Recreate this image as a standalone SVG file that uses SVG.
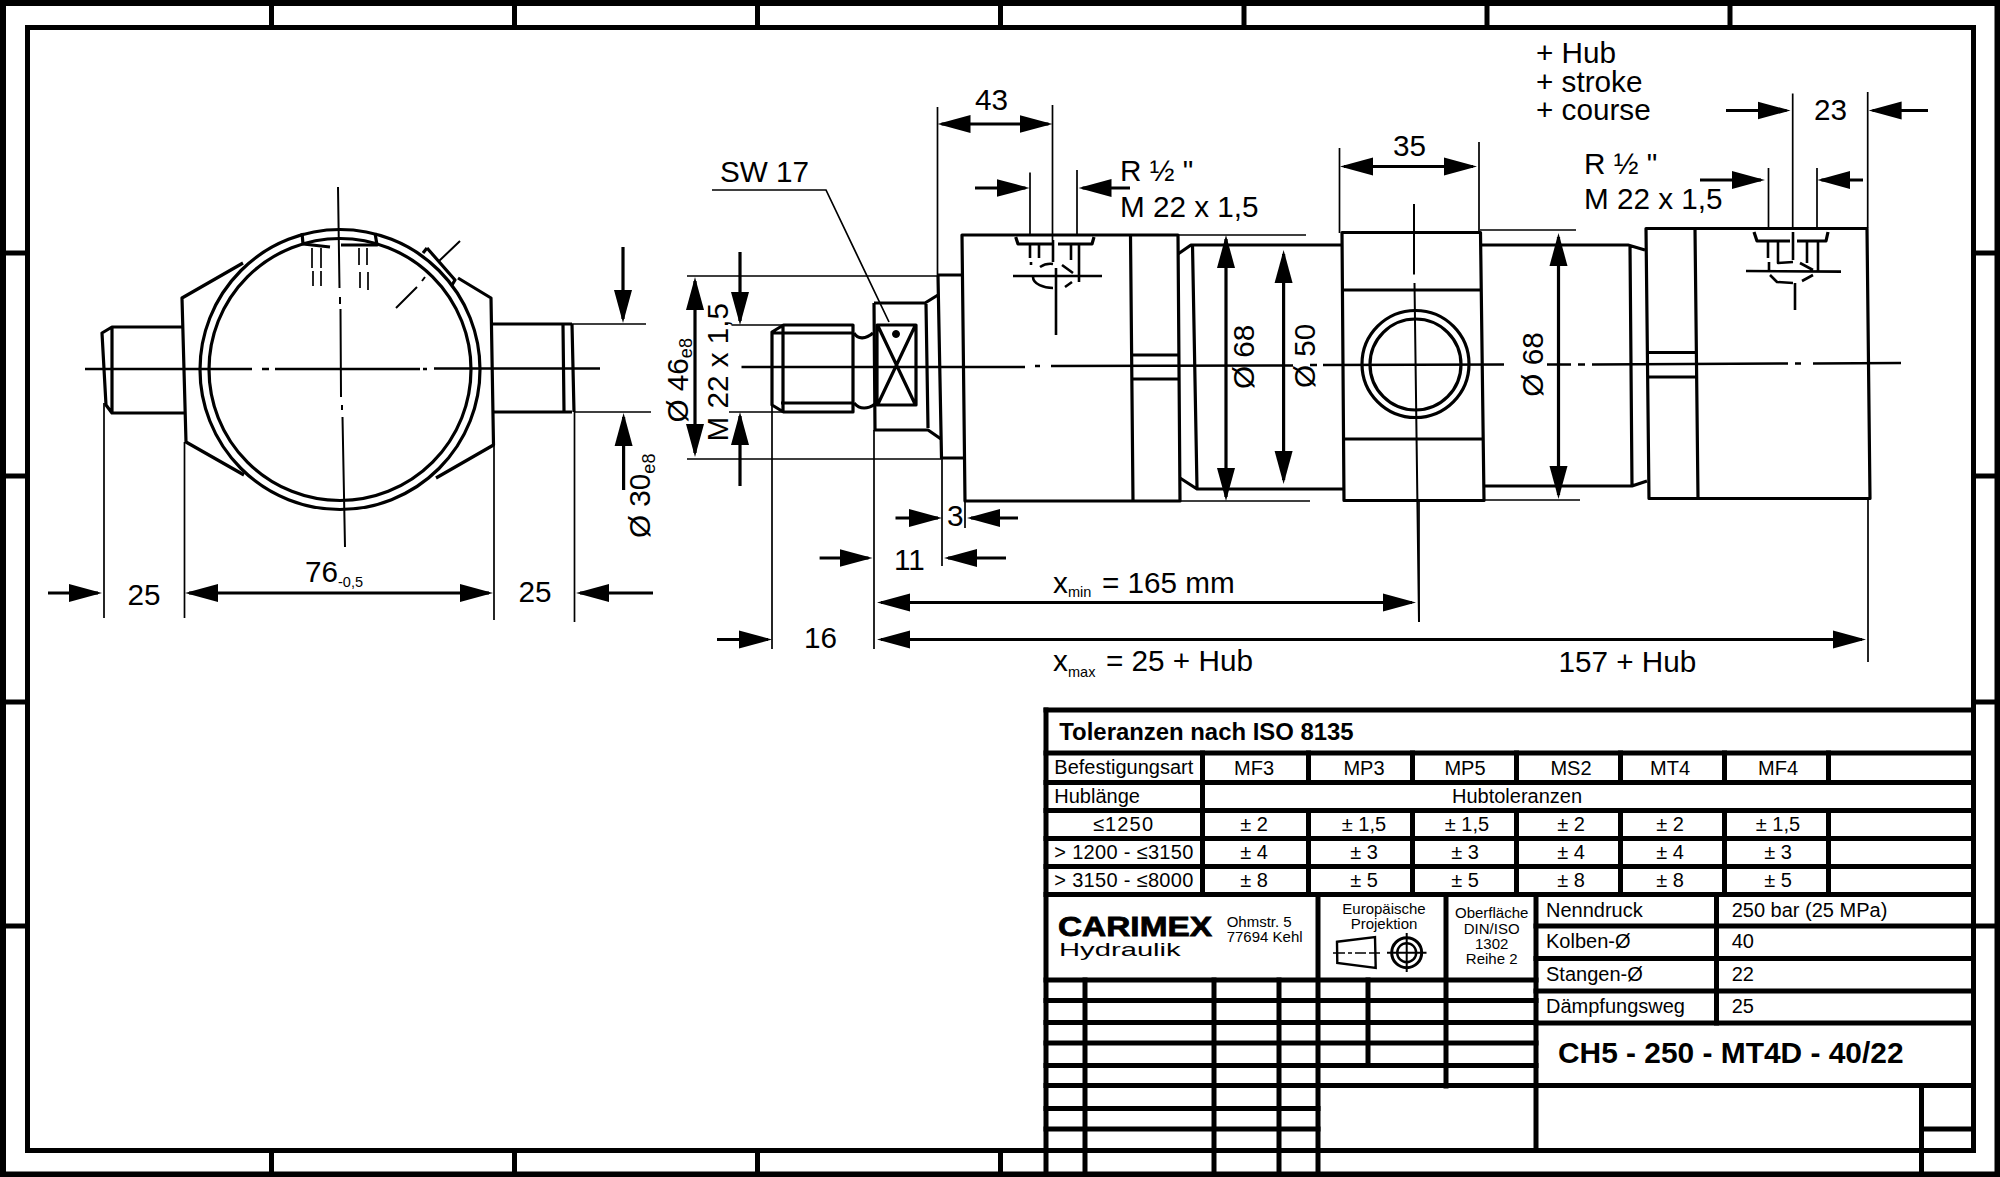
<svg xmlns="http://www.w3.org/2000/svg" width="2000" height="1177" viewBox="0 0 2000 1177">
<style>
text{font-family:"Liberation Sans",Arial,sans-serif;fill:#000;font-size:29.700px}
.s{font-size:18px}.u{font-size:14.5px}
.b{font-weight:bold}
.f20{font-size:20px}.f15{font-size:15px}
.m{text-anchor:middle}
path,line,circle{fill:none;stroke:#000}
.k{stroke-width:5;stroke-linecap:square}
.t{stroke-width:3.2;stroke-linejoin:round}
.n{stroke-width:1.7}
.c{stroke-width:2.4}
.a{stroke-width:3.2;marker-start:url(#hs);marker-end:url(#he)}
.o{stroke-width:3.2;marker-end:url(#he)}
</style>
<defs>
<marker id="he" markerUnits="userSpaceOnUse" markerWidth="36" markerHeight="20" refX="29" refY="10" orient="auto"><path d="M0 1L33 10L0 19z" style="fill:#000;stroke:none"/></marker>
<marker id="hs" markerUnits="userSpaceOnUse" markerWidth="36" markerHeight="20" refX="29" refY="10" orient="auto-start-reverse"><path d="M0 1L33 10L0 19z" style="fill:#000;stroke:none"/></marker>
</defs>
<rect width="2000" height="1177" style="fill:#fff"/>

<g id="frame">
<path d="M3 3H1997.5V1174.5H3Z" style="stroke-width:6"/>
<path class="k" d="M27.5 27.5H1973.5V1150.5H27.5Z"/>
<path class="k" d="M271.5 5V25M514.5 5V25M757.5 5V25M1000.5 5V25M1244 5V25M1487 5V25M1730 5V25"/>
<path class="k" d="M271.5 1153V1172M514.5 1153V1172M757.5 1153V1172M1000.5 1153V1172"/>
<path class="k" d="M5 253H25M5 476H25M5 702H25M5 926H25M1976 253H1995M1976 476H1995M1976 702H1995M1976 926H1995"/>
</g>

<g id="front-view">
<circle class="t" cx="340" cy="369.5" r="140"/>
<circle class="t" cx="340" cy="369.5" r="131"/>
<path class="t" d="M243 263L182 298L186 442L244 475M436 478L493.500 445L491 298L458 278"/>
<path class="t" d="M182 327H112L102 333L106 405L112 413H186M112 327V413"/>
<path class="t" d="M492 324H572M493 412H572M563 325L564 411M572 324L574 412"/>
<path class="t" d="M302 233L303 244L330 247M341 245H377L375 233"/>
<path class="n" d="M312 248V268M313 271V286M321 248V268M321 271V286M359 248V265M360 272V288M367 248V265M368 272V290"/>
<path class="t" d="M427 248L455 280L452 285M427 248L423 253"/>
<path class="n" d="M460 241L438 262M425 277L422 281M417 287L396 308" style="stroke-width:2"/>
<path class="c" d="M85 369H252M262 369H269M275 369H420M423 369H427M434 368.500H600"/>
<path class="n" d="M338 187L339.500 288M340 297V304M340.500 309L341 397M342 405V410M342.500 417L345 547" style="stroke-width:2"/>
<path class="n" d="M104 403V618M184.500 442V618M494 445V620M574.500 412V622M572 324H646M574 412H651"/>
</g>

<g id="side-view">
<path class="c" d="M741.500 367H1025M1035 366H1040M1051 366L1293 365.500M1310 365H1317M1323 365L1504 364.500M1547 364.500H1571M1578 364.500H1585M1592 364.500L1788 363.500M1795 363.500H1801M1813 363.500L1901 363"/>
<!-- rod -->
<path class="t" d="M772 332L783.500 325H853V412H783.500L772 405ZM783 325V412M773.500 333H853M781 403H853"/>
<path class="t" d="M854 333C858 340 866 339 873 333M854 403C860 410 868 409 875 404"/>
<path class="t" d="M874 303H925L938 295M874 303L875 430H928L941 439M926 304L928 428"/>
<path class="t" d="M877 325H916V405H877ZM878 326L915 404M915 326L878 404"/>
<circle cx="896" cy="334" r="3.500" style="fill:#000"/>
<path class="t" d="M938 276L941.500 458H964M938 275H962"/>
<!-- first head -->
<path class="t" d="M962 235H1178L1180 501H965ZM1130.500 235L1133 501M1131 355H1178M1132 379H1179"/>
<path class="t" d="M1178 254L1191 245H1342M1180 478L1197 489H1345M1192.500 245L1197 488"/>
<path class="n" d="M1178 235H1306M1180 501H1310"/>
<path class="t" d="M1015.700 237L1018 244H1053M1058 244H1092L1094 237"/>
<path class="t" style="stroke-width:2.600" d="M1030 245V258M1031 262V265M1039 245V258M1071 245V260M1079 245V282M1013 276H1102M1040 267Q1046 263 1053 264M1033 277C1033 284 1044 288 1053 288M1062 265L1073 273M1065 287L1072 282M1053 240V262M1056 268V335"/>
<!-- middle block -->
<path class="t" d="M1342 232.500H1480.500L1484 500.500H1344ZM1342 290H1481M1343 439H1483"/>
<circle class="t" cx="1415.500" cy="364" r="53.500"/>
<circle class="t" cx="1415.500" cy="364.500" r="45.500"/>
<path class="n" d="M1414 204V274.500M1414.500 283L1419 622" style="stroke-width:2"/>
<path class="t" d="M1480.500 245H1628L1645 250M1485 486H1632L1647 481M1630 245L1632 486"/>
<path class="n" d="M1480 230H1576M1484 500H1580"/>
<!-- end cap -->
<path class="t" d="M1646 228.500H1867L1870 498.500H1649ZM1695 229L1698 498M1647 352.500H1696M1648 377H1697"/>
<path class="t" d="M1754 232L1757 241H1790M1797 241H1826L1828 232"/>
<path class="t" style="stroke-width:2.600" d="M1768 242V258M1769 262V270M1778 242V263L1793 262M1793 232V260M1807 242V263M1818 242V272M1746 271L1841 271.600M1770 275L1777 282L1793 283M1800 263L1813 270M1802 281L1813 275M1795 283V310"/>
<!-- extension lines and leader -->
<path class="n" d="M687 276H937.500M687 459H941M731.500 325H783M729 412H783M937.500 107V276M1030 172.600V235M1052.500 105V240M1077 170V235M772 405V649M874 430V649M942 459V566M965 501V528M1339.500 148V233M1479 142V231M1419 501V622M1768.500 168V228M1792.700 93.600V228M1817 168V228M1867.700 92V228M1868 498V662"/>
<path class="n" d="M712 190H826L889 322"/>
</g>

<g id="connectors">
<path class="o" d="M48 593H98"/>
<path class="a" d="M189 593H489"/>
<path class="o" d="M653 593H580"/>
<path class="o" d="M623 247V319"/>
<path class="o" d="M623.600 490V417"/>
<path class="a" d="M695 281V453"/>
<path class="o" d="M740 252V321"/>
<path class="o" d="M740 486V416"/>
<path class="a" d="M941.500 124H1048.500"/>
<path class="o" d="M975 188H1025.500"/>
<path class="o" d="M1130 188H1082.500"/>
<path class="a" d="M1344 166.500H1473"/>
<path class="o" d="M1726 110.500H1786.500"/>
<path class="o" d="M1928 110.500H1872.600"/>
<path class="o" d="M1700 180H1761"/>
<path class="o" d="M1863 180H1821.400"/>
<path class="a" d="M1226 239V497"/>
<path class="a" d="M1283.600 254V480"/>
<path class="a" d="M1558.500 237V495"/>
<path class="o" d="M895.500 518H938"/>
<path class="o" d="M1018 518H971"/>
<path class="o" d="M819.600 558H868.500"/>
<path class="o" d="M1006 558H948"/>
<path class="o" d="M717 639.500H768"/>
<path class="a" d="M881 602.500H1412"/>
<path class="a" d="M881 639.500H1862"/>
</g>

<g id="labels">
<text x="127.500" y="605">25</text>
<text x="305" y="582">76</text><text class="u" x="338" y="587">-0,5</text>
<text x="518.500" y="602">25</text>
<text transform="rotate(-90 650 538)" x="650" y="538">Ø 30<tspan class="s" dy="5">e8</tspan></text>
<text transform="rotate(-90 688 422.500)" x="688" y="422.500">Ø 46<tspan class="s" dy="4">e8</tspan></text>
<text transform="rotate(-90 728.500 441.600)" x="728.500" y="441.600">M 22 x 1,5</text>
<text x="720" y="182">SW 17</text>
<text x="975" y="110">43</text>
<text x="1120" y="180.600">R ½ "</text>
<text x="1120" y="217">M 22 x 1,5</text>
<text x="947" y="526">3</text>
<text x="894" y="570">11</text>
<text x="804" y="647.500">16</text>
<text transform="rotate(-90 1254 389)" x="1254" y="389">Ø 68</text>
<text transform="rotate(-90 1315 388)" x="1315" y="388">Ø 50</text>
<text transform="rotate(-90 1543 396.700)" x="1543" y="396.700">Ø 68</text>
<text x="1053" y="593">x</text><text class="u" x="1068" y="597">min</text><text x="1102" y="593">= 165 mm</text>
<text x="1053" y="671">x</text><text class="u" x="1068" y="677">max</text><text x="1106" y="671">= 25 + Hub</text>
<text x="1558.500" y="671.500">157 + Hub</text>
<text x="1536" y="63">+ Hub</text>
<text x="1536" y="91.500">+ stroke</text>
<text x="1536" y="120">+ course</text>
<text x="1393" y="155.500">35</text>
<text x="1814" y="120">23</text>
<text x="1584" y="173.600">R ½ "</text>
<text x="1584" y="209">M 22 x 1,5</text>
</g>

<g id="title-block">
<path class="k" d="M1046 710H1973M1046 753H1973M1046 782.500H1973M1046 810.500H1973M1046 838.500H1973M1046 866.500H1973M1046 894.500H1973"/>
<path class="k" d="M1046 710V1174M1202.500 753V894M1308.500 753V782M1412.500 753V782M1516.500 753V782M1620.500 753V782M1724.500 753V782M1828.500 753V782M1308.500 811V894M1412.500 811V894M1516.500 811V894M1620.500 811V894M1724.500 811V894M1828.500 811V894"/>
<path class="k" d="M1318 895V1174M1446 895V1086M1536 895V1150M1716.500 895V1023"/>
<path class="k" d="M1046 980H1536M1046 1000.500H1536M1046 1022.500H1536M1046 1043H1536M1046 1065.500H1536M1046 1085.500H1973M1536 926H1973M1536 958.500H1973M1536 991H1973M1536 1023H1973M1046 1108.500H1318M1046 1129H1318"/>
<path class="k" d="M1085 980V1174M1214 980V1174M1279 980V1174M1368 980V1065M1921.500 1086V1174M1921.500 1129H1973"/>

<text class="b" style="font-size:23.900px" x="1059.300" y="740">Toleranzen nach ISO 8135</text>
<text class="f20" x="1054.300" y="774">Befestigungsart</text>
<text class="f20 m" x="1254" y="775">MF3</text><text class="f20 m" x="1364" y="775">MP3</text><text class="f20 m" x="1465" y="775">MP5</text><text class="f20 m" x="1571" y="775">MS2</text><text class="f20 m" x="1670" y="775">MT4</text><text class="f20 m" x="1778" y="775">MF4</text>
<text class="f20" x="1054.300" y="803">Hublänge</text>
<text class="f20 m" x="1517" y="803">Hubtoleranzen</text>
<text class="f20" x="1093" y="831" textLength="60" lengthAdjust="spacing">≤1250</text>
<text class="f20" x="1054.300" y="859" textLength="139" lengthAdjust="spacing">&gt; 1200 - ≤3150</text>
<text class="f20" x="1054.300" y="887" textLength="139" lengthAdjust="spacing">&gt; 3150 - ≤8000</text>
<text class="f20 m" x="1254" y="831">± 2</text><text class="f20 m" x="1364" y="831">± 1,5</text><text class="f20 m" x="1467" y="831">± 1,5</text><text class="f20 m" x="1571" y="831">± 2</text><text class="f20 m" x="1670" y="831">± 2</text><text class="f20 m" x="1778" y="831">± 1,5</text>
<text class="f20 m" x="1254" y="859">± 4</text><text class="f20 m" x="1364" y="859">± 3</text><text class="f20 m" x="1465" y="859">± 3</text><text class="f20 m" x="1571" y="859">± 4</text><text class="f20 m" x="1670" y="859">± 4</text><text class="f20 m" x="1778" y="859">± 3</text>
<text class="f20 m" x="1254" y="887">± 8</text><text class="f20 m" x="1364" y="887">± 5</text><text class="f20 m" x="1465" y="887">± 5</text><text class="f20 m" x="1571" y="887">± 8</text><text class="f20 m" x="1670" y="887">± 8</text><text class="f20 m" x="1778" y="887">± 5</text>
<text class="b" x="1058" y="936" textLength="154" lengthAdjust="spacingAndGlyphs" style="font-size:28px;stroke:#000;stroke-width:.8">CARIMEX</text>
<text x="1059" y="955.700" textLength="121.700" lengthAdjust="spacingAndGlyphs" style="font-size:19px">Hydraulik</text>
<text class="f15" x="1226.700" y="926.700">Ohmstr. 5</text>
<text class="f15" x="1226.700" y="941.700">77694 Kehl</text>
<text class="f15 m" x="1384" y="914">Europäische</text>
<text class="f15 m" x="1384" y="929">Projektion</text>
<path d="M1337 941.700L1375 937L1375.700 968L1337.300 963Z" style="stroke-width:2.400"/>
<path d="M1333 953H1345M1348 953H1352M1355 953H1366M1369 953H1380" style="stroke-width:1.500"/>
<circle cx="1406.700" cy="952.700" r="15" style="stroke-width:3"/>
<circle cx="1406.700" cy="952.700" r="9.500" style="stroke-width:2.400"/>
<path d="M1387 952.700H1426.500M1406.700 933V972" style="stroke-width:2"/>
<text class="f15 m" x="1491.700" y="918.300">Oberfläche</text>
<text class="f15 m" x="1491.700" y="934">DIN/ISO</text>
<text class="f15 m" x="1491.700" y="949">1302</text>
<text class="f15 m" x="1491.700" y="964">Reihe 2</text>
<text class="f20" x="1546" y="916.700">Nenndruck</text><text class="f20" x="1731.700" y="916.700">250 bar (25 MPa)</text>
<text class="f20" x="1546" y="948">Kolben-Ø</text><text class="f20" x="1731.700" y="948">40</text>
<text class="f20" x="1546" y="981">Stangen-Ø</text><text class="f20" x="1731.700" y="981">22</text>
<text class="f20" x="1546" y="1012.700">Dämpfungsweg</text><text class="f20" x="1731.700" y="1012.700">25</text>
<text class="b" style="font-size:29.900px" x="1558" y="1062.700">CH5 - 250 - MT4D - 40/22</text>
</g>
</svg>
